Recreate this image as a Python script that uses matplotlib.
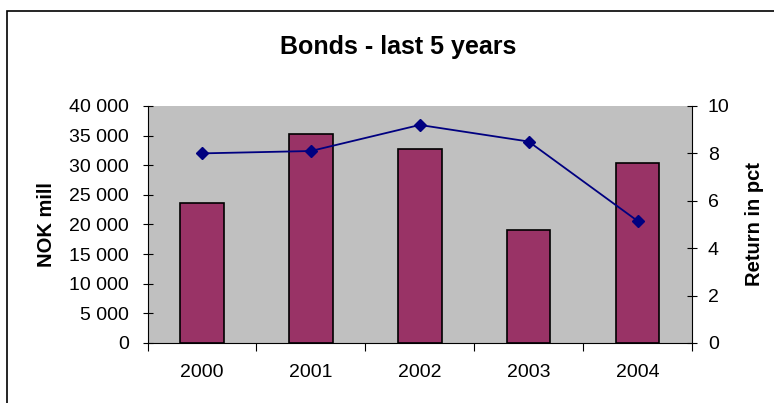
import matplotlib.pyplot as plt
from matplotlib.ticker import FuncFormatter
from matplotlib.patches import Rectangle

plt.rcParams['font.family'] = ['Liberation Sans', 'DejaVu Sans']

years = ['2000', '2001', '2002', '2003', '2004']
nok_mill = [23600, 35300, 32700, 19000, 30300]
return_pct = [8.0, 8.1, 9.2, 8.5, 5.15]

fig = plt.figure(figsize=(7.74, 4.03), dpi=100)
ax = fig.add_axes([0.1906, 0.149, 0.7034, 0.588])
ax.set_facecolor('#C0C0C0')

x = range(len(years))
ax.bar(x, nok_mill, width=0.4, color='#993366', edgecolor='black', linewidth=1.2, zorder=2)
ax.set_xlim(-0.5, 4.5)
ax.set_ylim(0, 40000)
ax.set_yticks(range(0, 40001, 5000))
ax.yaxis.set_major_formatter(FuncFormatter(lambda v, p: f'{int(v):,}'.replace(',', ' ')))
ax.set_xticks(list(x))
ax.set_xticklabels(years)
ax.set_xticks([i + 0.5 for i in range(-1, 5)], minor=True)
ax.tick_params(axis='x', which='major', length=0, pad=15, labelsize=14)
ax.tick_params(axis='x', which='minor', length=6, direction='out', width=0.8)
ax.tick_params(axis='y', length=7, direction='inout', width=0.8, labelsize=14, pad=10)
ax.set_ylabel('NOK mill', fontsize=14.5, fontweight='bold', labelpad=9)
for s in ['top', 'right']:
    ax.spines[s].set_visible(False)
ax.spines['left'].set_color('black')
ax.spines['bottom'].set_color('black')

ax2 = ax.twinx()
ax2.plot(list(x), return_pct, color='#000080', marker='D', markersize=6, linewidth=1.3, zorder=3)
ax2.set_ylim(0, 10)
ax2.set_yticks(range(0, 11, 2))
ax2.tick_params(axis='y', length=7, direction='inout', width=0.8, labelsize=14, pad=8)
ax2.set_ylabel('Return in pct', fontsize=14.5, fontweight='bold', labelpad=11)
for s in ['top', 'left', 'bottom']:
    ax2.spines[s].set_visible(False)
ax2.spines['right'].set_color('black')

fig.text(0.514, 0.883, 'Bonds - last 5 years', fontsize=18, fontweight='bold', ha='center', va='center')
fig.patches.append(Rectangle((7 / 774, -0.1), 1.2, 1 - 11 / 403 + 0.1, transform=fig.transFigure,
                             fill=False, edgecolor='black', linewidth=1.2))

fig.savefig('out.png', dpi=100)
